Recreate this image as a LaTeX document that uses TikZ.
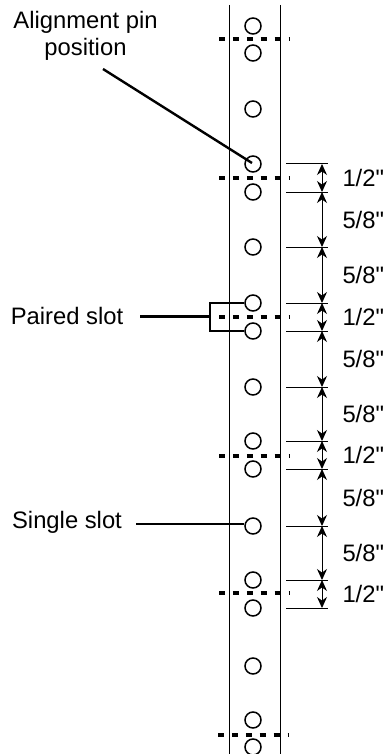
\documentclass[tikz,border=0pt]{standalone}
\usepackage{fontspec}
\newfontfamily\lblfont{Liberation Sans}
\usetikzlibrary{arrows.meta}
\tikzset{
  pin/.style={draw, circle, line width=1.5pt, inner sep=0pt, minimum size=16pt},
  rail/.style={line width=1pt},
  cutline/.style={line width=3.2pt, dash pattern=on 6pt off 7.9pt},
  leader/.style={line width=2.4pt},
  tick/.style={line width=1pt},
  span/.style={line width=1pt, {Stealth[length=11pt,width=10pt]}-{Stealth[length=11pt,width=10pt]}},
  lbl/.style={font=\lblfont\fontsize{23.8}{27}\selectfont, inner sep=0pt}
}
\begin{document}
\begin{tikzpicture}[x=1pt, y=-1pt]
\useasboundingbox (0,0) rectangle (383,754);

\fill[white] (0,0) rectangle (383,754);

% strip
\coordinate (railatop) at (229,5); \coordinate (railabot) at (229,754);
\coordinate (railbtop) at (280,5); \coordinate (railbbot) at (280,754);
\draw[rail] (railatop) -- (railabot);
\draw[rail] (railbtop) -- (railbbot);

% holes
\foreach \n/\y in {1/26,2/53,3/109,4/164,5/192,6/247,7/303,8/331,9/387,10/441,
  11/469,12/526,13/580,14/608,15/666,16/720,17/747}
  \node[pin] (hole\n) at (253,\y) {};

% cut lines
\foreach \n/\y/\x in {1/39/219,2/178/219,3/317/219,4/456/219,5/593/219,6/735/218} {
  \coordinate (cuta\n) at (\x,\y); \coordinate (cutb\n) at (\x+70,\y);
  \draw[cutline] (cuta\n) -- (cutb\n);
}

% ticks
\foreach \n/\y in {1/164,2/192,3/247,4/303,5/331,6/387,7/441,8/469,9/526,10/580,11/608} {
  \coordinate (dim\n) at (322,\y);
  \draw[tick] ([xshift=-36pt]dim\n) -- ([xshift=6pt]dim\n);
}

% spans
\foreach \a/\b in {1/2,4/5,7/8,10/11}
  \draw[span] (dim\a) -- (dim\b) node[lbl, midway, right=20pt] (half\a) {1/2"};
\foreach \a/\b in {2/3,3/4,5/6,6/7,8/9,9/10}
  \draw[span] (dim\a) -- (dim\b) node[lbl, midway, right=20pt] (five\a) {5/8"};

% labels
\node[lbl, align=center] (alignlbl) at (85.5,36) {Alignment pin\\position};
\node[lbl] (pairedlbl) at (67,316) {Paired slot};
\node[lbl] (singlelbl) at (67,522) {Single slot};

\coordinate (alignstart) at (103,69);
\draw[leader] (alignstart) -- (252,163);

\coordinate (pairedstart) at (140,316.5);
\coordinate (pairedjoin) at (210,316.5);
\draw[leader] (pairedstart) -- (pairedjoin);
\draw[leader] (hole7.west) -- (pairedjoin |- hole7.west) -- (pairedjoin |- hole8.west) -- (hole8.west);

\coordinate (singlestart) at (136,524);
\draw[leader] (singlestart) -- (singlestart -| hole12.west);
\end{tikzpicture}
\end{document}
